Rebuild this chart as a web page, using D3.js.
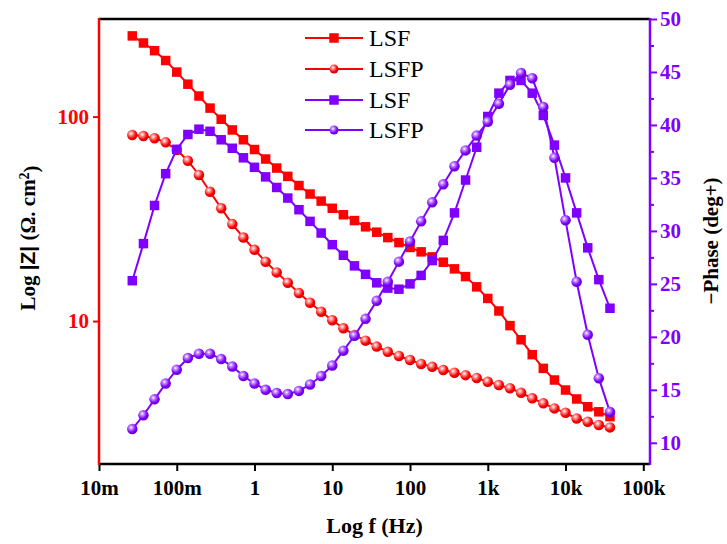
<!DOCTYPE html>
<html><head><meta charset="utf-8">
<script src="https://cdn.jsdelivr.net/npm/d3@7/dist/d3.min.js"></script>
<style>body{margin:0;background:#fff}svg{display:block}</style>
</head><body><svg id="c" width="727" height="544"></svg>
<script>
// Frequencies (Hz), 7 points per decade
const freq = [0.0268,0.0373,0.0518,0.0720,0.1,0.139,0.193,0.268,0.373,0.518,0.720,
  1,1.39,1.93,2.68,3.73,5.18,7.20,10,13.9,19.3,26.8,37.3,51.8,72.0,
  100,139,193,268,373,518,720,1000,1390,1930,2680,3730,5180,7200,
  10000,13900,19300,26800,37300];
// |Z| (Ohm cm2)
const zLSF = [248,229,210,188,165,144,126,110,97,86,77,69,62,56,51,46,41.8,38.6,35.6,33.1,
  31.0,28.9,27.2,25.6,24.2,22.9,21.8,20.6,19.4,18.0,16.5,14.7,12.9,11.2,9.5,8.1,6.85,5.87,
  5.15,4.60,4.16,3.81,3.60,3.41];
const zLSFP = [81.2,80.3,78.3,74.8,68.6,60.8,51.8,42.9,35.6,29.8,25.6,22.3,19.5,17.3,15.4,
  13.7,12.3,11.1,10.1,9.22,8.55,8.02,7.50,7.08,6.75,6.45,6.17,5.98,5.76,5.59,5.44,5.27,
  5.05,4.87,4.69,4.46,4.19,3.96,3.74,3.56,3.34,3.22,3.10,3.02];
// -Phase (deg)
const pLSF = [25.3,28.8,32.4,35.4,37.7,39.1,39.6,39.4,38.6,37.8,36.9,36.0,35.1,34.1,33.1,
  32.0,30.9,29.8,28.7,27.7,26.7,25.9,25.1,24.6,24.5,25.0,25.8,27.2,29.1,31.7,34.8,37.9,
  40.8,43.0,44.2,44.2,43.0,40.9,38.1,35.0,31.7,28.4,25.4,22.7];
const pLSFP = [11.3,12.6,14.1,15.6,16.9,18.0,18.4,18.4,17.9,17.2,16.3,15.6,15.0,14.7,14.6,
  14.9,15.5,16.3,17.3,18.7,20.1,21.7,23.4,25.2,27.1,29.0,30.9,32.7,34.4,36.1,37.6,39.0,
  40.3,42.0,43.8,44.9,44.4,41.7,36.9,31.0,25.2,20.2,16.1,12.9];

const xTicks = [0.01,0.1,1,10,100,1000,10000,100000];
const xTickLabels = ["10m","100m","1","10","100","1k","10k","100k"];
const zTicks = [10,100];
const zTickLabels = ["10","100"];
const pTicks = [10,15,20,25,30,35,40,45,50];
const pMinor = [12.5,17.5,22.5,27.5,32.5,37.5,42.5,47.5];
const legendLabels = ["LSF","LSFP","LSF","LSFP"];

const RED = "#ff0000", PUR = "#8000ff";
const L = 99, R = 650, T = 19, B = 464;
const svg = d3.select("#c");
const FONT = "'Times New Roman','Liberation Serif',serif";

const x = d3.scaleLog().domain([0.01, 1.22e5]).range([L, R]);
const yZ = d3.scaleLog().domain([2, 300]).range([B, T]);
const yP = d3.scaleLinear().domain([8, 50]).range([B, T]);

// gradients for spheres
const defs = svg.append("defs");
function grad(id, light, base, dark){
  const g = defs.append("radialGradient").attr("id", id)
    .attr("cx","38%").attr("cy","35%").attr("r","65%");
  g.append("stop").attr("offset","0%").attr("stop-color","#ffffff");
  g.append("stop").attr("offset","25%").attr("stop-color",light);
  g.append("stop").attr("offset","70%").attr("stop-color",base);
  g.append("stop").attr("offset","100%").attr("stop-color",dark);
}
grad("gR","#ff9a9a",RED,"#d80000");
grad("gP","#c58cff",PUR,"#6400cc");

// axes
const xAxis = d3.axisBottom(x).tickValues(xTicks).tickFormat((d,i)=>xTickLabels[i]).tickSize(7).tickPadding(9);
const gx = svg.append("g").attr("transform",`translate(0,${B})`).call(xAxis);
gx.select(".domain").remove();
gx.selectAll(".tick line").attr("stroke","#000").attr("stroke-width",2);
gx.selectAll("text").attr("fill","#000").style("font-family",FONT).style("font-weight","bold").style("font-size","21px");

const zAxis = d3.axisLeft(yZ).tickValues(zTicks).tickFormat((d,i)=>zTickLabels[i]).tickSize(6).tickPadding(4);
const gz = svg.append("g").attr("transform",`translate(${L},0)`).call(zAxis);
gz.select(".domain").remove();
gz.selectAll(".tick line").attr("stroke",RED).attr("stroke-width",2);
gz.selectAll("text").attr("fill",RED).style("font-family",FONT).style("font-weight","bold").style("font-size","21px");

const pAxis = d3.axisRight(yP).tickValues(pTicks).tickFormat(d3.format("d")).tickSize(7).tickPadding(3);
const gp = svg.append("g").attr("transform",`translate(${R},0)`).call(pAxis);
gp.select(".domain").remove();
gp.selectAll(".tick line").attr("stroke",PUR).attr("stroke-width",2);
gp.selectAll("text").attr("fill",PUR).style("font-family",FONT).style("font-weight","bold").style("font-size","21px");
const pAxisMinor = d3.axisRight(yP).tickValues(pMinor).tickFormat("").tickSize(4);
const gpm = svg.append("g").attr("transform",`translate(${R},0)`).call(pAxisMinor);
gpm.select(".domain").remove();
gpm.selectAll(".tick line").attr("stroke",PUR).attr("stroke-width",2);

// frame
svg.append("line").attr("x1",L).attr("x2",R).attr("y1",T).attr("y2",T).attr("stroke","#000").attr("stroke-width",2.5);
svg.append("line").attr("x1",L).attr("x2",R).attr("y1",B).attr("y2",B).attr("stroke","#000").attr("stroke-width",2.5);
svg.append("line").attr("x1",L).attr("x2",L).attr("y1",T-1).attr("y2",B+1).attr("stroke",RED).attr("stroke-width",2.5);
svg.append("line").attr("x1",R).attr("x2",R).attr("y1",T-1).attr("y2",B+1).attr("stroke",PUR).attr("stroke-width",2.5);

// series
const series = [
  {vals:zLSF, y:yZ, color:RED, shape:"sq", fill:RED},
  {vals:zLSFP, y:yZ, color:RED, shape:"ci", fill:"url(#gR)"},
  {vals:pLSF, y:yP, color:PUR, shape:"sq", fill:PUR},
  {vals:pLSFP, y:yP, color:PUR, shape:"ci", fill:"url(#gP)"}
];
function marker(g, shape, fill, cx, cy, s){
  if(shape==="sq"){
    g.append("rect").attr("x",cx-s/2).attr("y",cy-s/2).attr("width",s).attr("height",s).attr("fill",fill);
  } else {
    g.append("circle").attr("cx",cx).attr("cy",cy).attr("r",s/2).attr("fill",fill);
  }
}
series.forEach(s=>{
  const line = d3.line().x((d,i)=>x(freq[i])).y(d=>s.y(d));
  svg.append("path").attr("d",line(s.vals)).attr("fill","none").attr("stroke",s.color).attr("stroke-width",2);
  const g = svg.append("g");
  s.vals.forEach((v,i)=>marker(g, s.shape, s.fill, x(freq[i]), s.y(v), s.shape==="sq"?9.5:10.5));
});

// legend
const legY = [38,69,100,130];
series.forEach((s,i)=>{
  const g = svg.append("g");
  g.append("line").attr("x1",305).attr("x2",363).attr("y1",legY[i]).attr("y2",legY[i]).attr("stroke",s.color).attr("stroke-width",2);
  marker(g, s.shape, s.fill, 334, legY[i], s.shape==="sq"?9.5:9);
  g.append("text").attr("x",369).attr("y",legY[i]).attr("dy","0.35em").text(legendLabels[i])
    .style("font-family",FONT).style("font-size","24px").attr("fill","#000");
});

// axis titles
svg.append("text").attr("x",(L+R)/2).attr("y",533).attr("text-anchor","middle")
  .style("font-family",FONT).style("font-weight","bold").style("font-size","22px").text("Log f (Hz)");
const lt = svg.append("text").attr("transform","translate(35,238) rotate(-90)").attr("text-anchor","middle")
  .style("font-family",FONT).style("font-weight","bold").style("font-size","21px");
lt.append("tspan").text("Log ");
lt.append("tspan").style("font-family","Arial,'Liberation Sans',sans-serif").text("|Z|");
lt.append("tspan").text(" (Ω. cm");
lt.append("tspan").attr("dy","-0.45em").style("font-size","14px").text("2");
lt.append("tspan").attr("dy","0.45em").text(")");
svg.append("text").attr("transform","translate(718,241) rotate(-90)").attr("text-anchor","middle")
  .style("font-family",FONT).style("font-weight","bold").style("font-size","21px").text("\u2212Phase (deg+)");
</script></body></html>
